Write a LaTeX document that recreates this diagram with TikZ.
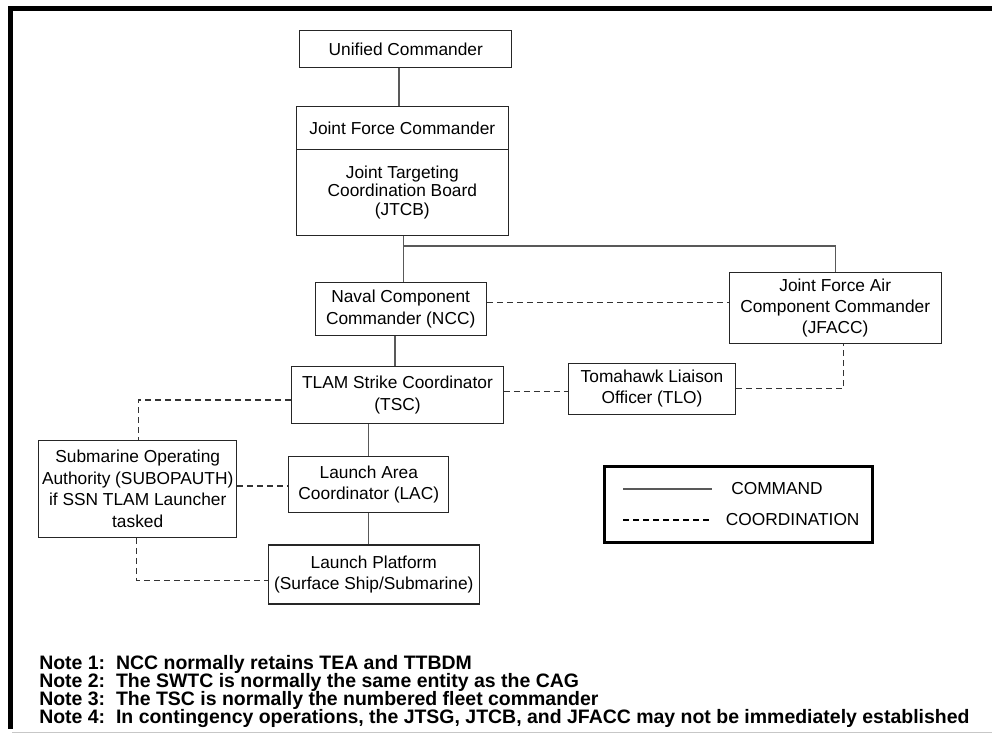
\documentclass[tikz,border=0pt]{standalone}
\usepackage{fontspec}
\setmainfont{Liberation Sans}
\newcommand\boxfont{\fontsize{13}{16.1}\selectfont}
\newcommand\tightfont{\fontsize{13}{13.9}\selectfont}
\newcommand\notefont{\fontsize{14.6}{17}\selectfont\bfseries}
\begin{document}
\begin{tikzpicture}[x=0.75pt,y=-0.75pt,
  orgbox/.style={draw=black!85, line width=0.8pt, inner sep=0pt, align=center, font=\boxfont},
  cmdline/.style={draw=black!65, line width=0.8pt},
  coordline/.style={draw=black!80, line width=0.8pt, dash pattern=on 4.5pt off 3pt},
  notetext/.style={anchor=base west, inner sep=0pt, font=\notefont},
  legtext/.style={anchor=west, inner sep=0pt, font=\boxfont}]
\useasboundingbox (0,0) rectangle (992,734);
% frame
\draw[line width=3.75pt] (992,8.5) -- (10,8.5) -- (10,729);
\draw[line width=1.2pt, black!22] (12,732.5) -- (992,732.5);

% boxes
\node[orgbox, minimum width=211.7*0.75pt, minimum height=37*0.75pt] (UC) at (405.8,49.2) {Unified Commander};
\node[orgbox, minimum width=212*0.75pt, minimum height=43*0.75pt] (JFC) at (402.3,128.2) {Joint Force Commander};
\node[orgbox, font=\tightfont, minimum width=212*0.75pt, minimum height=85.6*0.75pt] (JTCB) at (402.3,192.5) {Joint Targeting\\Coordination Board\\(JTCB)};
\node[orgbox, minimum width=171.3*0.75pt, minimum height=53.4*0.75pt] (NCC) at (400.7,309) {Naval Component\\Commander (NCC)};
\node[orgbox, minimum width=211.7*0.75pt, minimum height=70.6*0.75pt] (JFACC) at (835.2,308) {Joint Force Air\\Component Commander\\(JFACC)};
\node[orgbox, minimum width=211.6*0.75pt, minimum height=56.6*0.75pt] (TSC) at (397.5,395) {TLAM Strike Coordinator\\(TSC)};
\node[orgbox, minimum width=167.4*0.75pt, minimum height=50.7*0.75pt] (TLO) at (652,388.7) {Tomahawk Liaison\\Officer (TLO)};
\node[orgbox, minimum width=198*0.75pt, minimum height=97.3*0.75pt] (SUB) at (137.7,488.7) {Submarine Operating\\Authority (SUBOPAUTH)\\if SSN TLAM Launcher\\tasked};
\node[orgbox, minimum width=160.3*0.75pt, minimum height=55.6*0.75pt] (LAC) at (368.8,484.5) {Launch Area\\Coordinator (LAC)};
\node[orgbox, minimum width=211*0.75pt, minimum height=59*0.75pt] (LP) at (373.8,574.5) {Launch Platform\\(Surface Ship/Submarine)};

% helper coordinates
\coordinate (c399) at (399,0);
\coordinate (c404) at (403.7,0);
\coordinate (c835) at (835.3,0);
\coordinate (c395) at (395,0);
\coordinate (c844) at (843.7,0);
\coordinate (c138) at (138.3,0);
\coordinate (c368) at (368.3,0);
\coordinate (c137) at (136.7,0);
\coordinate (r246) at (0,246);
\coordinate (r303) at (0,302.7);
\coordinate (r392) at (0,391.7);
\coordinate (r389) at (0,388.7);
\coordinate (r400) at (0,400);
\coordinate (r486) at (0,486);
\coordinate (r580) at (0,580.3);
\coordinate (br) at (c404 |- r246);
\coordinate (bt) at (c835 |- r246);
\coordinate (tl) at (c844 |- r389);
\coordinate (ts) at (c138 |- r400);
\coordinate (sl) at (c137 |- r580);

% command lines
\draw[cmdline] (UC.south -| c399) -- (JFC.north -| c399);
\draw[cmdline] (JTCB.south -| c404) -- (NCC.north -| c404);
\draw[cmdline] (br) -- (bt) -- (JFACC.north -| c835);
\draw[cmdline] (NCC.south -| c395) -- (TSC.north -| c395);
\draw[cmdline] (TSC.south -| c368) -- (LAC.north -| c368);
\draw[cmdline] (LAC.south -| c368) -- (LP.north -| c368);

% coordination lines
\draw[coordline] (NCC.east |- r303) -- (JFACC.west |- r303);
\draw[coordline] (TSC.east |- r392) -- (TLO.west |- r392);
\draw[coordline] (TLO.east |- r389) -- (tl) -- (JFACC.south -| c844);
\draw[coordline] (TSC.west |- r400) -- (ts) -- (SUB.north -| c138);
\draw[coordline] (SUB.east |- r486) -- (LAC.west |- r486);
\draw[coordline] (SUB.south -| c137) -- (sl) -- (LP.west |- r580);

% legend
\node[draw, line width=2.25pt, minimum width=267.3*0.75pt, minimum height=76*0.75pt, inner sep=0pt] (legend) at (738.35,504.7) {};
\coordinate (la1) at (623,489);
\coordinate (la2) at (711.7,489);
\coordinate (lb1) at (623,520);
\coordinate (lb2) at (710,520);
\draw[cmdline] (la1) -- (la2);
\draw[coordline, draw=black] (lb1) -- (lb2);
\node[legtext] (lcmd) at (731,489) {COMMAND};
\node[legtext] (lcoord) at (725.7,520) {COORDINATION};

% notes
\node[notetext] (n1) at (39,669) {Note 1:\ \ NCC normally retains TEA and TTBDM};
\node[notetext] (n2) at (39,687) {Note 2:\ \ The SWTC is normally the same entity as the CAG};
\node[notetext] (n3) at (39,705) {Note 3:\ \ The TSC is normally the numbered fleet commander};
\node[notetext] (n4) at (39,723) {Note 4:\ \ In contingency operations, the JTSG, JTCB, and JFACC may not be immediately established};
\end{tikzpicture}
\end{document}
